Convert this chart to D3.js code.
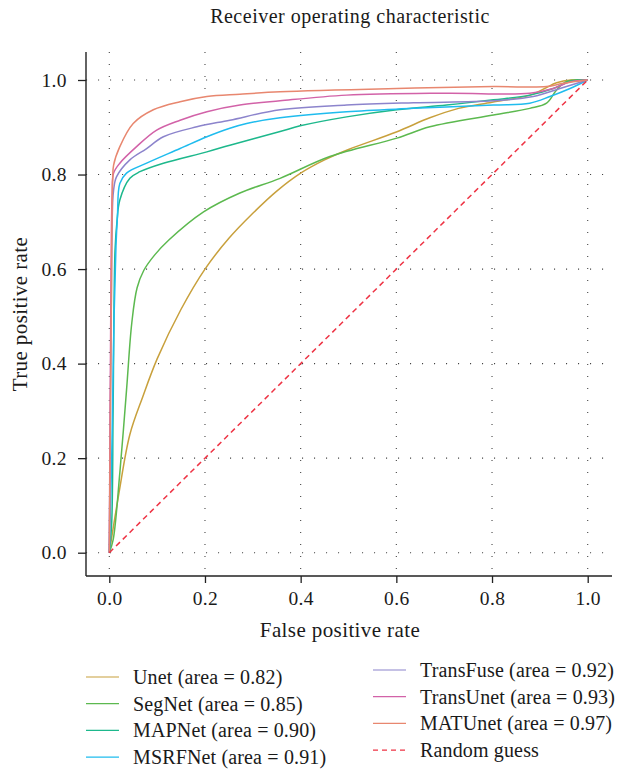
<!DOCTYPE html>
<html>
<head>
<meta charset="utf-8">
<script src="https://cdn.jsdelivr.net/npm/d3@7"></script>
<style>
  html, body { margin: 0; padding: 0; background: #fff; }
  svg { display: block; }
  text { font-family: "Liberation Serif", "DejaVu Serif", serif; fill: #1a1a1a; }
</style>
</head>
<body>
<svg id="chart" width="620" height="769"></svg>
<script>
// ROC curves: [false positive rate, true positive rate]
const unet = [[0,0],[0.02,0.125],[0.043,0.25],[0.07,0.33],[0.1,0.41],[0.15,0.515],[0.2,0.6],[0.25,0.665],[0.3,0.718],[0.35,0.765],[0.4,0.803],[0.45,0.831],[0.5,0.853],[0.6,0.89],[0.67,0.92],[0.73,0.94],[0.8,0.953],[0.88,0.968],[0.91,0.982],[0.935,0.994],[0.965,1.0],[1,1]];
const segnet = [[0,0],[0.008,0.027],[0.022,0.169],[0.036,0.344],[0.047,0.486],[0.058,0.56],[0.072,0.597],[0.095,0.63],[0.125,0.662],[0.197,0.721],[0.273,0.761],[0.357,0.792],[0.461,0.838],[0.601,0.877],[0.67,0.901],[0.803,0.926],[0.879,0.94],[0.914,0.951],[0.935,0.979],[0.956,0.997],[1,1]];
const mapnet = [[0,0],[0.005,0.063],[0.008,0.309],[0.012,0.64],[0.016,0.7],[0.022,0.746],[0.043,0.792],[0.064,0.806],[0.113,0.824],[0.204,0.848],[0.252,0.862],[0.357,0.891],[0.399,0.903],[0.496,0.922],[0.601,0.937],[0.705,0.947],[0.803,0.958],[0.879,0.968],[0.928,0.982],[0.963,0.997],[1,1]];
const msrfnet = [[0,0],[0.005,0.2],[0.01,0.5],[0.014,0.65],[0.017,0.711],[0.022,0.781],[0.036,0.803],[0.078,0.824],[0.148,0.855],[0.204,0.88],[0.252,0.898],[0.287,0.908],[0.357,0.92],[0.496,0.933],[0.636,0.94],[0.803,0.947],[0.879,0.951],[0.921,0.965],[0.963,0.982],[1,1]];
const transfuse = [[0,0],[0.004,0.5],[0.007,0.74],[0.009,0.767],[0.015,0.795],[0.043,0.831],[0.078,0.855],[0.113,0.88],[0.183,0.901],[0.252,0.915],[0.357,0.937],[0.496,0.947],[0.636,0.952],[0.803,0.956],[0.886,0.965],[0.942,0.982],[1,1]];
const transunet = [[0,0],[0.003,0.5],[0.006,0.76],[0.009,0.803],[0.022,0.824],[0.057,0.859],[0.099,0.894],[0.148,0.915],[0.204,0.933],[0.273,0.947],[0.357,0.956],[0.496,0.968],[0.705,0.972],[0.879,0.972],[0.928,0.982],[0.963,0.996],[1,1]];
const matunet = [[0,0],[0.004,0.5],[0.007,0.79],[0.009,0.82],[0.022,0.859],[0.05,0.908],[0.092,0.937],[0.148,0.954],[0.204,0.965],[0.273,0.97],[0.357,0.975],[0.601,0.982],[0.803,0.986],[0.914,0.986],[0.949,0.993],[1,1]];
const randomGuess = [[0,0],[1,1]];

const seriesNames = ["Unet", "SegNet", "MAPNet", "MSRFNet", "TransFuse", "TransUnet", "MATUnet"];
const seriesAreas = [0.82, 0.85, 0.90, 0.91, 0.92, 0.93, 0.97];
const seriesData = [unet, segnet, mapnet, msrfnet, transfuse, transunet, matunet];
const seriesColors = ["#c8a03c", "#5cb94f", "#1db88c", "#1fbcee", "#8c84cc", "#d262a8", "#e8876f"];
const guessColor = "#ee3344";

const xTicks = [0, 0.2, 0.4, 0.6, 0.8, 1.0];
const yTicks = [0, 0.2, 0.4, 0.6, 0.8, 1.0];

const svg = d3.select("#chart");
const plot = { left: 86, right: 612, top: 52, bottom: 576 };

// 0 and 1 land at fixed pixel positions; the axes run a little past them
const x0 = 109.3, x1 = 587.7, y0 = 552.7, y1 = 80;
const x = d3.scaleLinear()
  .domain([(plot.left - x0) / (x1 - x0), (plot.right - x0) / (x1 - x0)])
  .range([plot.left, plot.right]);
const y = d3.scaleLinear()
  .domain([(y0 - plot.bottom) / (y0 - y1), (y0 - plot.top) / (y0 - y1)])
  .range([plot.bottom, plot.top]);

// dotted grid
const grid = svg.append("g").attr("stroke", "#444").attr("stroke-width", 1.1);
xTicks.forEach(t => {
  grid.append("line")
    .attr("x1", x(t)).attr("x2", x(t))
    .attr("y1", plot.bottom).attr("y2", plot.top)
    .attr("stroke-dasharray", "1.1,10.9").attr("stroke-dashoffset", 5);
});
yTicks.forEach(t => {
  grid.append("line")
    .attr("x1", plot.left).attr("x2", plot.right)
    .attr("y1", y(t)).attr("y2", y(t))
    .attr("stroke-dasharray", "1.1,10.9");
});

// axes
const xAxis = d3.axisBottom(x).tickValues(xTicks).tickFormat(d3.format(".1f")).tickSize(7).tickPadding(8).tickSizeOuter(0);
const yAxis = d3.axisLeft(y).tickValues(yTicks).tickFormat(d3.format(".1f")).tickSize(8).tickPadding(11).tickSizeOuter(0);

const gx = svg.append("g").attr("transform", `translate(0,${plot.bottom})`).call(xAxis);
const gy = svg.append("g").attr("transform", `translate(${plot.left},0)`).call(yAxis);
[gx, gy].forEach(g => {
  g.select(".domain").attr("stroke", "#222").attr("stroke-width", 1.4);
  g.selectAll(".tick line").attr("stroke", "#222").attr("stroke-width", 1.3);
  g.selectAll(".tick text").attr("font-family", "Liberation Serif, serif").attr("font-size", 19.5)
    .attr("letter-spacing", 0.4).attr("fill", "#1a1a1a");
});
gx.select(".domain").attr("d", `M${plot.left},0H${plot.right}`);
gy.select(".domain").attr("d", `M0,${plot.top}V${plot.bottom}`);

// curves
const line = d3.line().x(d => x(d[0])).y(d => y(d[1])).curve(d3.curveCatmullRom.alpha(0.5));
const curves = svg.append("g").attr("fill", "none");
seriesData.forEach((data, i) => {
  curves.append("path").datum(data)
    .attr("d", line)
    .attr("stroke", seriesColors[i])
    .attr("stroke-width", 1.5)
    .attr("stroke-linejoin", "round");
});
curves.append("path").datum(randomGuess)
  .attr("d", d3.line().x(d => x(d[0])).y(d => y(d[1])))
  .attr("stroke", guessColor)
  .attr("stroke-width", 1.5)
  .attr("stroke-dasharray", "5.5,4");

// titles
svg.append("text").attr("x", 350).attr("y", 23).attr("text-anchor", "middle")
  .attr("font-size", 20).attr("letter-spacing", 0.5).text("Receiver operating characteristic");
svg.append("text").attr("x", 340).attr("y", 637).attr("text-anchor", "middle")
  .attr("font-size", 21).attr("letter-spacing", 0.4).text("False positive rate");
svg.append("text").attr("transform", "translate(27,314) rotate(-90)").attr("text-anchor", "middle")
  .attr("font-size", 21).attr("letter-spacing", 0.4).text("True positive rate");

// legend
const legendItems = seriesNames.map((n, i) => ({ label: `${n} (area = ${seriesAreas[i].toFixed(2)})`, color: seriesColors[i], dash: null }));
legendItems.push({ label: "Random guess", color: guessColor, dash: "5,4" });
const legendCols = [
  { lineX: 86, textX: 133, rowY: [677, 703.7, 730.4, 757.1] },
  { lineX: 373, textX: 420, rowY: [670, 696.7, 723.4, 750.1] }
];
const legend = svg.append("g");
legendItems.forEach((item, i) => {
  const col = legendCols[i < 4 ? 0 : 1];
  const ry = col.rowY[i % 4];
  legend.append("line")
    .attr("x1", col.lineX).attr("x2", col.lineX + 33)
    .attr("y1", ry).attr("y2", ry)
    .attr("stroke", item.color).attr("stroke-width", 1.2)
    .attr("stroke-dasharray", item.dash);
  legend.append("text").attr("x", col.textX).attr("y", ry).attr("dy", "0.35em")
    .attr("font-size", 20).attr("letter-spacing", 0.15).text(item.label);
});
</script>
</body>
</html>
